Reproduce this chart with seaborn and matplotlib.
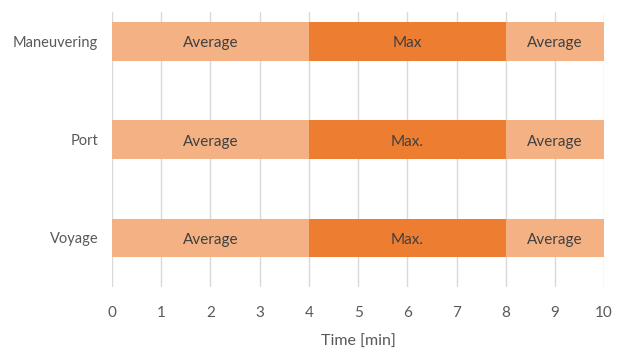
import matplotlib
matplotlib.use("Agg")
import matplotlib.pyplot as plt
import seaborn as sns
import pandas as pd

categories = ["Maneuvering", "Port", "Voyage"]
seg_labels = [["Average", "Max", "Average"],
              ["Average", "Max.", "Average"],
              ["Average", "Max.", "Average"]]
seg1 = [4, 4, 4]   # Average
seg2 = [4, 4, 4]   # Max
seg3 = [2, 2, 2]   # Average
x_ticks = list(range(0, 11))
x_label = "Time [min]"

light = "#F4B183"
dark = "#ED7D31"

sns.set_theme(style="white")
plt.rcParams["font.family"] = ["Lato", "DejaVu Sans"]

fig = plt.figure(figsize=(6.19, 3.5), dpi=100)
ax = fig.add_axes([0.181, 0.18, 0.795, 0.786])

df = pd.DataFrame({"cat": categories, "s1": seg1, "s2": seg2, "s3": seg3})
df["e1"] = df["s1"]
df["e2"] = df["s1"] + df["s2"]
df["e3"] = df["e2"] + df["s3"]

w = 0.39
kw = dict(width=w, ax=ax, saturation=1, linewidth=0, edgecolor="none")
sns.barplot(data=df, y="cat", x="e3", color=light, zorder=2, **kw)
sns.barplot(data=df, y="cat", x="e2", color=dark, zorder=3, **kw)
sns.barplot(data=df, y="cat", x="e1", color=light, zorder=4, **kw)

for i in range(len(categories)):
    starts = [0, df["e1"][i], df["e2"][i]]
    ends = [df["e1"][i], df["e2"][i], df["e3"][i]]
    for j in range(3):
        ax.text((starts[j] + ends[j]) / 2, i + 0.02, seg_labels[i][j], ha="center", va="center",
                fontsize=11, color="#404040", zorder=5)

ax.set_xlim(0, 10)
ax.set_ylim(2.5, -0.3)
ax.set_xticks(x_ticks)
ax.xaxis.grid(True, color="#D9D9D9", linewidth=1)
ax.set_axisbelow(True)
for s in ax.spines.values():
    s.set_visible(False)
ax.tick_params(axis="x", length=0, labelsize=11, labelcolor="#595959", pad=14)
ax.tick_params(axis="y", length=0, labelsize=10.5, labelcolor="#595959", pad=10)
ax.set_ylabel("")
ax.set_xlabel(x_label, fontsize=11.5, color="#595959", labelpad=10)

fig.savefig("out.png", dpi=100)
